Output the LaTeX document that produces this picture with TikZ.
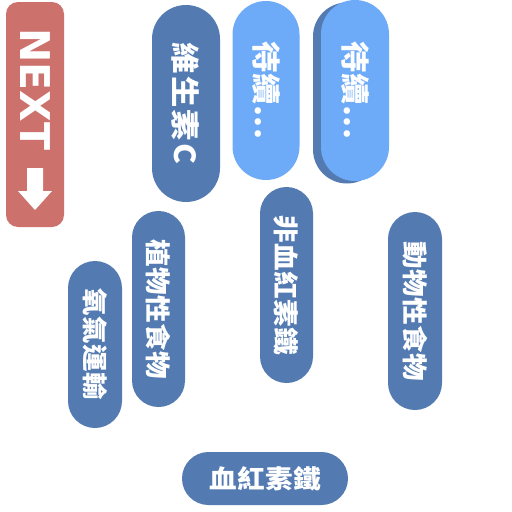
\documentclass[tikz,border=0pt]{standalone}
\usepackage{fontspec}
\usepackage{xcolor}
\usepackage{tikz}
\usetikzlibrary{shapes.misc}
\setsansfont{DejaVu Sans}
\newfontfamily\cjk{Noto Sans CJK TC}[FakeStretch=1.08,LetterSpace=2]
\newfontfamily\cjkwide{Noto Sans CJK TC}[FakeStretch=1.08,LetterSpace=8]
\definecolor{pillBlue}{HTML}{537BB2}
\definecolor{pillLight}{HTML}{6DAAF8}
\definecolor{nextRed}{HTML}{CD716C}

\begin{document}
\begin{tikzpicture}[x=1pt, y=-1pt,
    pill/.style={rounded rectangle, fill=pillBlue, text=white, inner sep=0pt,
        font=\cjk\bfseries\fontsize{25.5}{26}\selectfont},
    vpill/.style={pill, rotate=-90},
    big/.style={font=\cjk\bfseries\fontsize{29}{29}\selectfont},
    bigwide/.style={font=\cjkwide\bfseries\fontsize{29}{29}\selectfont}]
    \useasboundingbox[fill=white] (0,0) rectangle (512,512);
    % next button
    \node[fill=nextRed, rounded corners=12pt, minimum width=58pt,
        minimum height=225pt, inner sep=0pt] (nextBox) at (35,114.5) {};
    \node[rotate=-90, text=white, font=\sffamily\bfseries\fontsize{41}{41}\selectfont]
        (nextText) at (35,89.5) {NEXT};
    \fill[white] (27,168) -- (43,168) -- (43,191) -- (52,191) -- (35,210)
        -- (18,191) -- (27,191) -- cycle;
    % top row
    \node[vpill, bigwide, minimum width=197pt, minimum height=68pt]
        (vitC) at (186,103.5) {維生素C};
    \node[vpill, big, fill=pillLight, minimum width=179pt, minimum height=67pt]
        (waitA) at (266,90.5) {待續...};
    \node[vpill, minimum width=181pt, minimum height=68pt]
        (waitShadow) at (347,93) {};
    \node[vpill, big, fill=pillLight, minimum width=181pt, minimum height=68pt]
        (waitB) at (355,90.5) {待續...};
    % middle row
    \node[vpill, minimum width=196pt, minimum height=53pt]
        (plantFood) at (158.5,309) {植物性食物};
    \node[vpill, minimum width=167pt, minimum height=54pt]
        (oxygen) at (95,344.5) {氧氣運輸};
    \node[vpill, minimum width=196pt, minimum height=53pt]
        (nonHeme) at (286.5,285) {非血紅素鐵};
    \node[vpill, minimum width=198pt, minimum height=54pt]
        (animalFood) at (415,311) {動物性食物};
    % bottom
    \node[pill, minimum width=166pt, minimum height=53pt]
        (heme) at (265,478.5) {血紅素鐵};
\end{tikzpicture}
\end{document}
